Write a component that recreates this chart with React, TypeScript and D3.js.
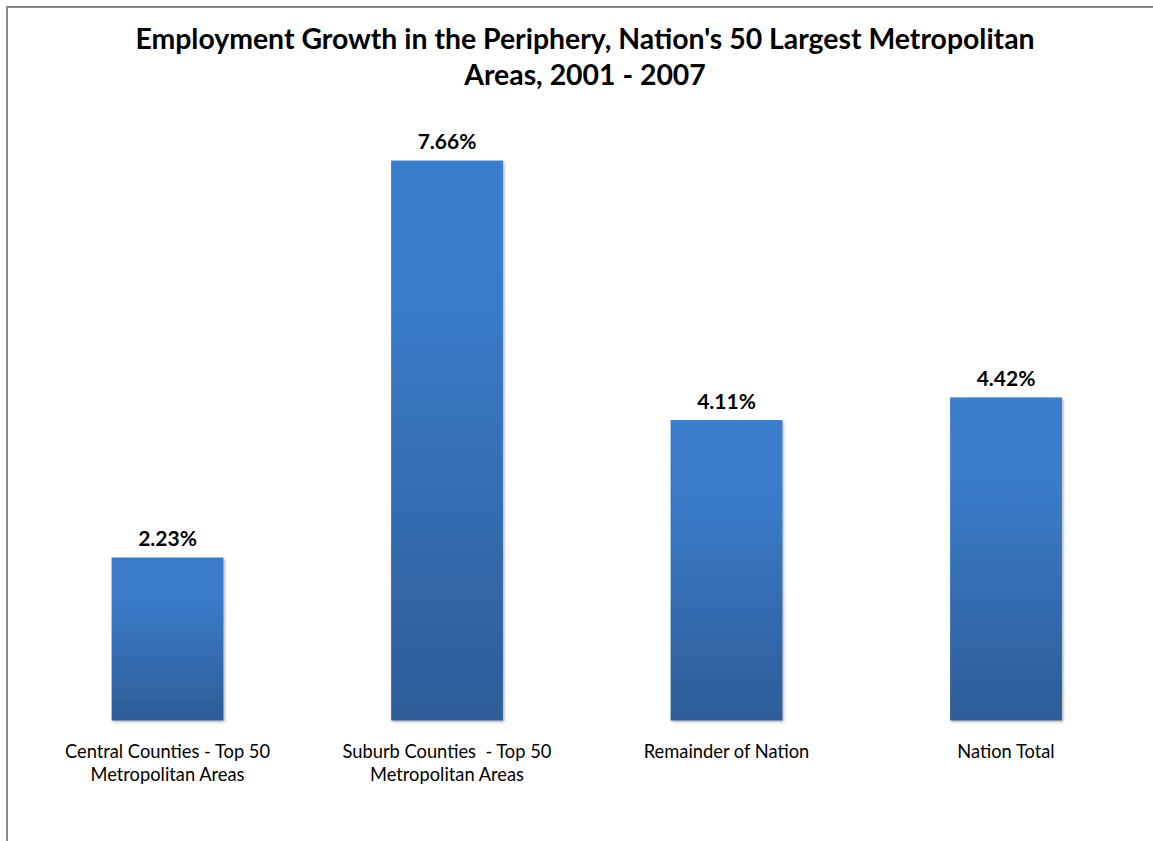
import React from "react";
import * as d3 from "d3";

const titleLines = [
  "Employment Growth in the Periphery, Nation's 50 Largest Metropolitan",
  "Areas, 2001 - 2007",
];
const categories = [
  "Central Counties - Top 50 Metropolitan Areas",
  "Suburb Counties - Top 50 Metropolitan Areas",
  "Remainder of Nation",
  "Nation Total",
];
const categoryLines = [
  ["Central Counties - Top 50", "Metropolitan Areas"],
  ["Suburb Counties  - Top 50", "Metropolitan Areas"],
  ["Remainder of Nation"],
  ["Nation Total"],
];
const values = [2.23, 7.66, 4.11, 4.42];
const valueLabels = ["2.23%", "7.66%", "4.11%", "4.42%"];

const W = 1153;
const H = 841;
const FONT = "Lato, 'Open Sans', sans-serif";

export default function App() {
  const x = d3
    .scaleBand<string>()
    .domain(categories)
    .range([27.75, 1145.75])
    .paddingInner(0.6)
    .paddingOuter(0.3);
  const y = d3.scaleLinear().domain([0, 8]).range([720.5, 135.7]);

  return (
    <svg
      width={W}
      height={H}
      style={{ position: "absolute", left: 0, top: 0, background: "#fff" }}
      fontFamily={FONT}
    >
      <defs>
        <linearGradient id="barGrad" x1="0" y1="0" x2="0" y2="1">
          <stop offset="0%" stopColor="#3b7dcd" />
          <stop offset="25%" stopColor="#3a7cca" />
          <stop offset="100%" stopColor="#2d5c97" />
        </linearGradient>
        <filter id="shadow" x="-10%" y="-10%" width="130%" height="130%">
          <feDropShadow dx="1.5" dy="1.5" stdDeviation="1" floodColor="#000" floodOpacity="0.3" />
        </filter>
      </defs>
      <rect x={0} y={0} width={W} height={H} fill="#fff" />
      <rect x={7} y={7} width={W + 20} height={H + 20} fill="none" stroke="#888888" strokeWidth={2} />

      {titleLines.map((t, i) => (
        <text
          key={i}
          x={585}
          y={49 + i * 35.5}
          textAnchor="middle"
          fontWeight="bold"
          fontSize={28.4}
          fill="#000"
        >
          {t}
        </text>
      ))}

      {categories.map((c, i) => {
        const bx = x(c)!;
        const bw = x.bandwidth();
        const top = y(values[i]);
        const cx = bx + bw / 2;
        return (
          <g key={c}>
            <rect
              x={bx}
              y={top}
              width={bw}
              height={y(0) - top}
              fill="url(#barGrad)"
              filter="url(#shadow)"
            />
            <text
              x={cx}
              y={top - 11.5}
              textAnchor="middle"
              fontWeight="bold"
              fontSize={21}
              fill="#000"
            >
              {valueLabels[i]}
            </text>
            {categoryLines[i].map((ln, j) => (
              <text
                key={j}
                x={cx}
                y={758 + j * 23}
                textAnchor="middle"
                fontSize={18.3}
                fill="#000"
                style={{ whiteSpace: "pre" }}
              >
                {ln}
              </text>
            ))}
          </g>
        );
      })}
    </svg>
  );
}
